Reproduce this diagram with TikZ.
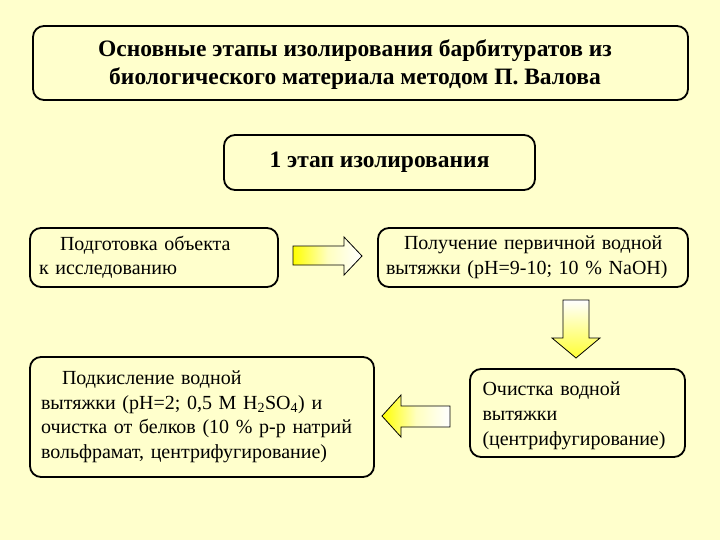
\documentclass[tikz,border=0pt]{standalone}
\usepackage{fontspec}
\setmainfont{Liberation Serif}
\definecolor{bg}{HTML}{FFFFCC}
\begin{document}
\begin{tikzpicture}[x=1pt,y=-1pt,
  box/.style={draw=black, line width=1.8pt, rounded corners=11pt, fill=bg, inner sep=0pt, align=left},
  titletext/.style={font=\fontsize{23.5}{28}\selectfont\bfseries, align=center},
  bodytext/.style={font=\fontsize{20}{24.5}\selectfont},
  blockarrow/.style={draw=black, line width=0.8pt}]
\useasboundingbox (0,0) rectangle (720,540);
\fill[bg] (0,0) rectangle (720,540);

\node[box, minimum width=655pt, minimum height=74pt] (title) at (360.5,63) {};
\node[titletext] (titletxt) at (355,65)
  {Основные этапы изолирования барбитуратов из\\биологического материала методом П. Валова};
\node[box, titletext, minimum width=311pt, minimum height=55pt] (stage) at (379.5,162.5)
  {1 этап изолирования};

\node[box, bodytext, minimum width=248pt, minimum height=59pt, text width=230pt] (prep) at (154,257.5)
  {\hspace*{21pt}Подготовка объекта\\к исследованию};
\node[box, bodytext, minimum width=310pt, minimum height=59pt, text width=294pt] (extract) at (533,257.5)
  {\hspace*{18pt}Получение первичной водной\\вытяжки (рН=9-10; 10 \% NaOH)};
\node[box, minimum width=215pt, minimum height=88pt] (clean) at (577.5,413) {};
\node[bodytext, text width=192pt, align=left, inner sep=0pt] (cleantxt) at (578.5,416)
  {Очистка водной\\[0.5pt]вытяжки\\[0.5pt](центрифугирование)};
\node[box, bodytext, minimum width=344pt, minimum height=120pt, text width=322pt] (acid) at (202,417)
  {\hspace*{21pt}Подкисление водной\\вытяжки (рН=2; 0,5 М H\textsubscript{2}SO\textsubscript{4}) и\\очистка от белков (10 \% р-р натрий\\вольфрамат, центрифугирование)};

% right arrow: prep -> extract
\shade[left color=yellow, right color=white, middle color=yellow!25]
  (293,246) -- (344,246) -- (344,237) -- (362,256) -- (344,275) -- (344,265) -- (293,265) -- cycle;
\draw[blockarrow] (293,246) -- (344,246) -- (344,237) -- (362,256) -- (344,275) -- (344,265) -- (293,265) -- cycle;

% down arrow: extract -> clean
\shade[top color=white, bottom color=yellow!80]
  (563,300) -- (589,300) -- (589,338) -- (600,338) -- (576,358) -- (552,338) -- (563,338) -- cycle;
\draw[blockarrow] (563,300) -- (589,300) -- (589,338) -- (600,338) -- (576,358) -- (552,338) -- (563,338) -- cycle;

% left arrow: clean -> acid
\shade[left color=yellow, right color=white, middle color=yellow!25]
  (450,406) -- (401,406) -- (401,395) -- (382,416) -- (401,437) -- (401,427) -- (450,427) -- cycle;
\draw[blockarrow] (450,406) -- (401,406) -- (401,395) -- (382,416) -- (401,437) -- (401,427) -- (450,427) -- cycle;
\end{tikzpicture}
\end{document}
